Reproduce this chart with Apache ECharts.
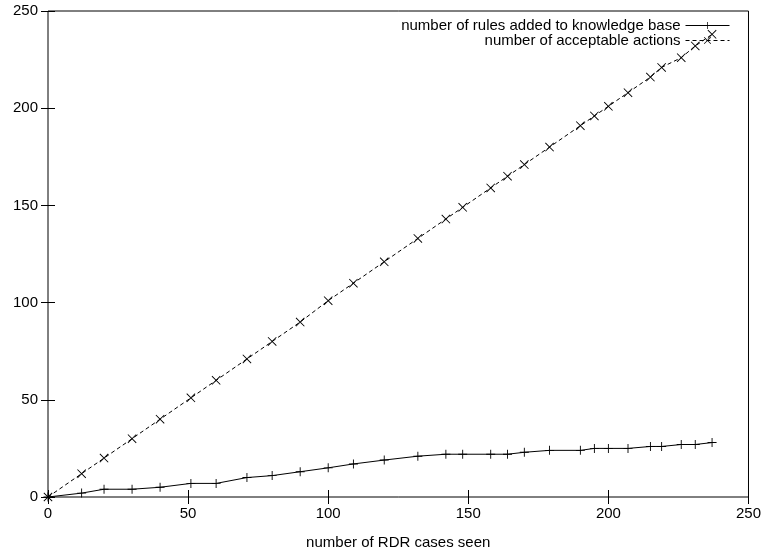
<!DOCTYPE html>
<html>
<head>
<meta charset="utf-8">
<script src="https://cdn.jsdelivr.net/npm/echarts@6/dist/echarts.min.js"></script>
<style>
  html, body { margin: 0; padding: 0; background: #fff; }
  #chart { width: 764px; height: 555px; }
</style>
</head>
<body>
<div id="chart"></div>
<script>
// cases seen (x) and the two counts
var casesSeen = [0, 12, 20, 30, 40, 51, 60, 71, 80, 90, 100, 109, 120, 132, 142, 148, 158, 164, 170, 179, 190, 195, 200, 207, 215, 219, 226, 231, 237];
var rulesAdded = [0, 2, 4, 4, 5, 7, 7, 10, 11, 13, 15, 17, 19, 21, 22, 22, 22, 22, 23, 24, 24, 25, 25, 25, 26, 26, 27, 27, 28];
var acceptable = [0, 12, 20, 30, 40, 51, 60, 71, 80, 90, 101, 110, 121, 133, 143, 149, 159, 165, 171, 180, 191, 196, 201, 208, 216, 221, 226, 232, 238];
var seriesNames = ['number of rules added to knowledge base', 'number of acceptable actions'];

var plusSymbol = 'path://M0,4.5L10,4.5L10,5.5L0,5.5Z M4.5,0L5.5,0L5.5,10L4.5,10Z';
var crossSymbol = 'path://M0,0.7L0.7,0L10,9.3L9.3,10Z M9.3,0L10,0.7L0.7,10L0,9.3Z';

function pairs(xs, ys) {
  var out = [];
  for (var i = 0; i < xs.length; i++) out.push([xs[i], ys[i]]);
  return out;
}

var chart = echarts.init(document.getElementById('chart'), null, { renderer: 'canvas' });

var font = 'Liberation Sans';
var fs = 15;
var tick = { show: true, inside: true, length: 7, lineStyle: { color: '#000', width: 1 } };

chart.setOption({
  animation: false,
  backgroundColor: '#fff',
  grid: { left: 48, right: 13, top: 11, bottom: 57, show: true, borderColor: '#000', borderWidth: 1 },
  legend: {
    data: seriesNames,
    orient: 'vertical',
    right: 29,
    top: 13,
    align: 'right',
    itemWidth: 44,
    itemHeight: 9,
    itemGap: 0,
    lineStyle: { width: 1 },
    textStyle: { fontFamily: font, fontSize: fs, color: '#000' }
  },
  xAxis: [{
    type: 'value', min: 0, max: 250, interval: 50, position: 'bottom',
    name: 'number of RDR cases seen', nameLocation: 'middle', nameGap: 38,
    nameTextStyle: { fontFamily: font, fontSize: fs, color: '#000' },
    axisLine: { show: false },
    axisTick: tick,
    axisLabel: { margin: 9, fontFamily: font, fontSize: fs, color: '#000' },
    splitLine: { show: false }
  }, {
    type: 'value', min: 0, max: 250, interval: 50, position: 'top',
    axisLine: { show: false }, axisTick: tick, axisLabel: { show: false }, splitLine: { show: false }
  }],
  yAxis: [{
    type: 'value', min: 0, max: 250, interval: 50, position: 'left',
    axisLine: { show: false },
    axisTick: tick,
    axisLabel: { margin: 10, fontFamily: font, fontSize: fs, color: '#000' },
    splitLine: { show: false }
  }, {
    type: 'value', min: 0, max: 250, interval: 50, position: 'right',
    axisLine: { show: false }, axisTick: tick, axisLabel: { show: false }, splitLine: { show: false }
  }],
  series: [{
    name: seriesNames[0],
    type: 'line',
    data: pairs(casesSeen, rulesAdded),
    symbol: plusSymbol,
    symbolSize: 9,
    showAllSymbol: true,
    itemStyle: { color: '#000' },
    lineStyle: { color: '#000', width: 1 }
  }, {
    name: seriesNames[1],
    type: 'line',
    data: pairs(casesSeen, acceptable),
    symbol: crossSymbol,
    symbolSize: 9,
    showAllSymbol: true,
    itemStyle: { color: '#000' },
    lineStyle: { color: '#000', width: 1, type: [4, 3] }
  }]
});

window.addEventListener('resize', chart.resize);
</script>
</body>
</html>
